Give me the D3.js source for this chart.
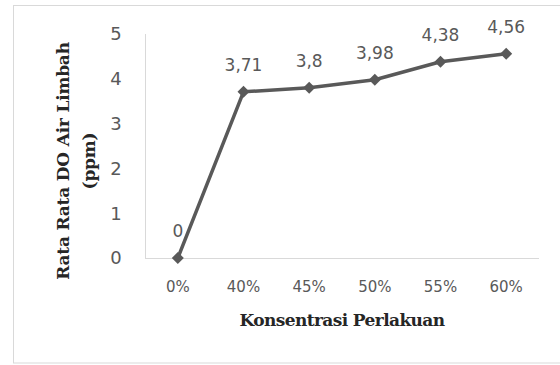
<!DOCTYPE html>
<html>
<head>
<meta charset="utf-8">
<script src="https://cdn.jsdelivr.net/npm/d3@7"></script>
<style>
  body { margin: 0; background: #fff; }
</style>
</head>
<body>
<div id="chart"></div>
<script>
// data
const categories = ['0%', '40%', '45%', '50%', '55%', '60%']
const values = [0, 3.71, 3.8, 3.98, 4.38, 4.56]
const labels = ['0', '3,71', '3,8', '3,98', '4,38', '4,56']
const yTicks = [0, 1, 2, 3, 4, 5]

const WIDTH = 560
const HEIGHT = 365
const margin = { left: 145, right: 21, top: 34, bottom: 107 }

const svg = d3.select('#chart').append('svg')
  .attr('width', WIDTH)
  .attr('height', HEIGHT)

// outer frame
svg.append('rect')
  .attr('x', 13.5).attr('y', 5.5)
  .attr('width', 560).attr('height', 357.5)
  .attr('fill', 'none')
  .attr('stroke', '#d9d9d9')

const x = d3.scaleBand()
  .domain(categories)
  .range([margin.left, WIDTH - margin.right])

const y = d3.scaleLinear()
  .domain([0, 5])
  .range([HEIGHT - margin.bottom, margin.top])

// axis lines
svg.append('line')
  .attr('x1', margin.left + 0.5).attr('x2', margin.left + 0.5)
  .attr('y1', y(5)).attr('y2', y(0))
  .attr('stroke', '#d9d9d9')
svg.append('line')
  .attr('x1', margin.left).attr('x2', WIDTH - margin.right)
  .attr('y1', y(0) + 0.5).attr('y2', y(0) + 0.5)
  .attr('stroke', '#d9d9d9')

// tick labels
svg.selectAll('.ytick')
  .data(yTicks)
  .enter()
  .append('text')
  .attr('class', 'ytick')
  .attr('x', 116)
  .attr('y', d => y(d))
  .attr('dy', '0.36em')
  .attr('text-anchor', 'middle')
  .attr('font-family', 'DejaVu Sans')
  .attr('font-size', 18)
  .attr('fill', '#595959')
  .text(d => d)

svg.selectAll('.xtick')
  .data(categories)
  .enter()
  .append('text')
  .attr('class', 'xtick')
  .attr('x', d => x(d) + x.bandwidth() / 2)
  .attr('y', 292)
  .attr('text-anchor', 'middle')
  .attr('font-family', 'DejaVu Sans')
  .attr('font-size', 15)
  .attr('fill', '#595959')
  .text(d => d)

// line
const line = d3.line()
  .x((d, i) => x(categories[i]) + x.bandwidth() / 2)
  .y(d => y(d))

svg.append('path')
  .datum(values)
  .attr('d', line)
  .attr('fill', 'none')
  .attr('stroke', '#595959')
  .attr('stroke-width', 3.5)
  .attr('stroke-linejoin', 'round')

// diamond markers
svg.selectAll('.marker')
  .data(values)
  .enter()
  .append('path')
  .attr('class', 'marker')
  .attr('transform', (d, i) => `translate(${x(categories[i]) + x.bandwidth() / 2},${y(d)})`)
  .attr('d', 'M0,-6L6,0L0,6L-6,0Z')
  .attr('fill', '#595959')

// data labels
svg.selectAll('.dlabel')
  .data(values)
  .enter()
  .append('text')
  .attr('class', 'dlabel')
  .attr('x', (d, i) => x(categories[i]) + x.bandwidth() / 2)
  .attr('y', d => y(d) - 21)
  .attr('text-anchor', 'middle')
  .attr('font-family', 'DejaVu Sans')
  .attr('font-size', 17)
  .attr('fill', '#595959')
  .text((d, i) => labels[i])

// axis titles
svg.append('text')
  .attr('x', (margin.left + WIDTH - margin.right) / 2)
  .attr('y', 326)
  .attr('text-anchor', 'middle')
  .attr('font-family', 'DejaVu Serif')
  .attr('font-weight', 'bold')
  .attr('font-size', 17)
  .attr('letter-spacing', -0.6)
  .attr('fill', '#262626')
  .text('Konsentrasi Perlakuan')

const yTitle = svg.append('text')
  .attr('transform', 'translate(69,161) rotate(-90)')
  .attr('text-anchor', 'middle')
  .attr('font-family', 'DejaVu Serif')
  .attr('font-weight', 'bold')
  .attr('font-size', 17)
  .attr('letter-spacing', -0.2)
  .attr('fill', '#262626')
yTitle.append('tspan').attr('x', 0).attr('dy', 0).text('Rata Rata DO Air Limbah')
yTitle.append('tspan').attr('x', 0).attr('dy', 26).text('(ppm)')
</script>
</body>
</html>
